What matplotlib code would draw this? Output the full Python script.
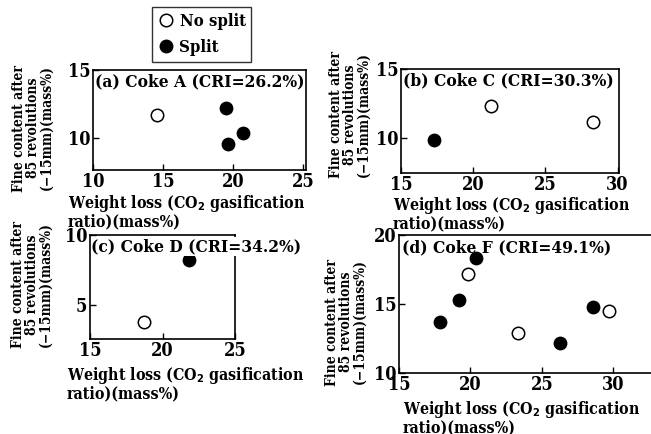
import matplotlib
matplotlib.use("Agg")
import matplotlib.pyplot as plt
from matplotlib.lines import Line2D

plt.rcParams['font.family'] = 'DejaVu Serif'
plt.rcParams['font.stretch'] = 'condensed'
plt.rcParams['font.weight'] = 'bold'
plt.rcParams['axes.labelweight'] = 'bold'
plt.rcParams['font.size'] = 11

# panel data: weight loss (x), fine content (y)
a_open_x = [14.6]
a_open_y = [11.7]
a_fill_x = [19.5, 20.7, 19.6]
a_fill_y = [12.2, 10.35, 9.5]

b_open_x = [21.2, 28.3]
b_open_y = [12.3, 11.2]
b_fill_x = [17.3]
b_fill_y = [9.9]

c_open_x = [18.7]
c_open_y = [3.8]
c_fill_x = [21.8]
c_fill_y = [8.2]

d_open_x = [19.8, 23.3, 29.7]
d_open_y = [17.2, 12.9, 14.5]
d_fill_x = [17.9, 19.2, 20.4, 26.3, 28.6]
d_fill_y = [13.7, 15.3, 18.3, 12.2, 14.8]

titles = ['(a) Coke A (CRI=26.2%)', '(b) Coke C (CRI=30.3%)',
          '(c) Coke D (CRI=34.2%)', '(d) Coke F (CRI=49.1%)']
ylabel = 'Fine content after\n85 revolutions\n(\u221215mm)(mass%)'
xlabel = 'Weight loss (CO$_\\mathbf{2}$ gasification\nratio)(mass%)'

W, H = 651, 434
fig = plt.figure(figsize=(W / 100, H / 100), dpi=100)


def make_ax(x0, x1, y0, y1):
    ax = fig.add_axes([x0 / W, 1 - y1 / H, (x1 - x0) / W, (y1 - y0) / H])
    ax.px = (x0, x1, y0, y1)
    return ax


def panel(ax, ox, oy, fx, fy, xlim, ylim, xt, yt, title,
          xl_x, xl_y, yl_x, yl_y, title_bg=False):
    x0, x1, y0, y1 = ax.px
    ax.scatter(ox, oy, s=80, facecolors='white', edgecolors='black', linewidths=1.1, zorder=3)
    ax.scatter(fx, fy, s=80, facecolors='black', edgecolors='black', zorder=3)
    ax.set_xlim(*xlim)
    ax.set_ylim(*ylim)
    ax.set_xticks(xt)
    ax.set_yticks(yt)
    ax.tick_params(direction='in', length=4, width=1, labelsize=13, pad=2)
    for sp in ax.spines.values():
        sp.set_linewidth(1.2)
    bbox = dict(facecolor='white', edgecolor='none', pad=0.5) if title_bg else None
    ax.text(0.01, 0.97, title, transform=ax.transAxes, ha='left', va='top',
            fontsize=12.4, zorder=5 if title_bg else 2, clip_on=False, bbox=bbox)
    # x label: left edge at pixel xl_x, top at pixel xl_y
    ax.set_xlabel(xlabel, fontsize=11.4, linespacing=0.95, ha='left', va='top')
    ax.xaxis.set_label_coords((xl_x - x0) / (x1 - x0), (y1 - xl_y) / (y1 - y0))
    # y label: block centre at pixel (yl_x, yl_y)
    ax.set_ylabel(ylabel, fontsize=10, linespacing=1.0, va='center', ha='center')
    ax.yaxis.set_label_coords((yl_x - x0) / (x1 - x0), (y1 - yl_y) / (y1 - y0))


ax_a = make_ax(93, 306, 70, 170)
panel(ax_a, a_open_x, a_open_y, a_fill_x, a_fill_y, (10, 25.2), (7.6, 15),
      [10, 15, 20, 25], [10, 15], titles[0], 68, 193, 33, 128)

ax_b = make_ax(401, 619, 69, 173)
panel(ax_b, b_open_x, b_open_y, b_fill_x, b_fill_y, (15, 30.1), (7.5, 15),
      [15, 20, 25, 30], [10, 15], titles[1], 393, 195, 350, 115)

ax_c = make_ax(90, 235, 235, 339)
panel(ax_c, c_open_x, c_open_y, c_fill_x, c_fill_y, (15, 25), (2.6, 10),
      [15, 20, 25], [5, 10], titles[2], 67, 365, 32, 285, title_bg=True)

ax_d = make_ax(399, 651, 235, 373)
panel(ax_d, d_open_x, d_open_y, d_fill_x, d_fill_y, (15, 32.65), (10, 20),
      [15, 20, 25, 30], [10, 15, 20], titles[3], 403, 399, 346, 322)
ax_d.spines['right'].set_visible(False)

handles = [Line2D([], [], marker='o', ls='none', mfc='white', mec='black', ms=9, mew=1.1),
           Line2D([], [], marker='o', ls='none', mfc='black', mec='black', ms=9)]
fig.legend(handles, ['No split', 'Split'], loc='upper left',
           bbox_to_anchor=(152 / W, 1 - 7 / H), fontsize=12, frameon=True,
           fancybox=False, edgecolor='black', handletextpad=0.3, handlelength=1.0,
           borderpad=0.35, labelspacing=0.55, borderaxespad=0)

fig.savefig('out.png', dpi=100)
